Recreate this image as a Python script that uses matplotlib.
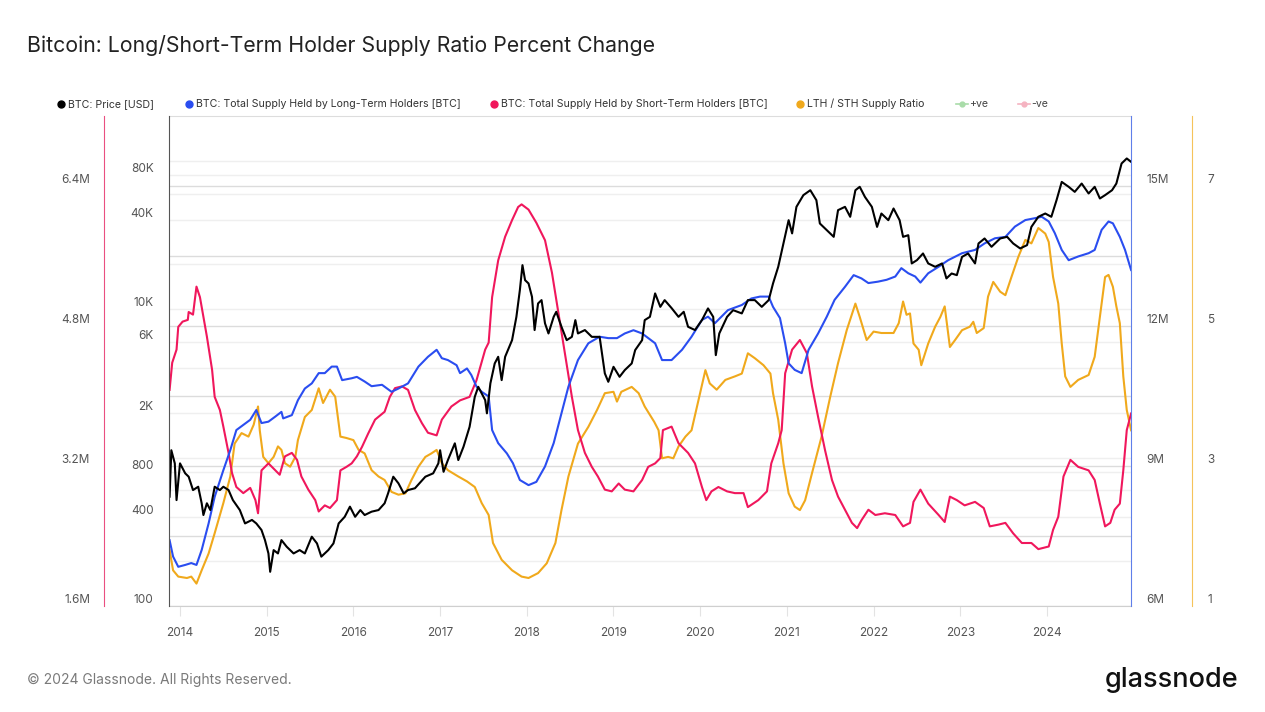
import matplotlib
matplotlib.use("Agg")
import matplotlib.pyplot as plt
from matplotlib.ticker import FixedLocator, NullLocator

plt.rcParams["font.family"] = ["Inter", "DejaVu Sans"]

# ---- data (time in decimal years) ----
price_t = [
    2013.88, 2013.90, 2013.94, 2013.96, 2014.00, 2014.06, 2014.10, 2014.15, 2014.21, 2014.25,
    2014.27, 2014.31, 2014.35, 2014.40, 2014.46, 2014.50, 2014.56, 2014.61, 2014.69, 2014.75,
    2014.83, 2014.88, 2014.94, 2014.98, 2015.02, 2015.04, 2015.08, 2015.13, 2015.17, 2015.23,
    2015.31, 2015.38, 2015.44, 2015.52, 2015.58, 2015.63, 2015.71, 2015.77, 2015.83, 2015.90,
    2015.96, 2016.02, 2016.08, 2016.13, 2016.21, 2016.29, 2016.36, 2016.40, 2016.46, 2016.52,
    2016.58, 2016.63, 2016.71, 2016.83, 2016.92, 2016.98, 2017.00, 2017.04, 2017.09, 2017.17,
    2017.21, 2017.27, 2017.34, 2017.40, 2017.44, 2017.52, 2017.54, 2017.58, 2017.63, 2017.67,
    2017.71, 2017.75, 2017.83, 2017.88, 2017.92, 2017.95, 2017.98, 2018.02, 2018.06, 2018.09,
    2018.13, 2018.17, 2018.21, 2018.25, 2018.31, 2018.34, 2018.40, 2018.46, 2018.52, 2018.56,
    2018.59, 2018.67, 2018.75, 2018.84, 2018.90, 2018.94, 2019.00, 2019.07, 2019.13, 2019.21,
    2019.25, 2019.33, 2019.36, 2019.42, 2019.48, 2019.54, 2019.59, 2019.67, 2019.75, 2019.81,
    2019.86, 2019.94, 2020.02, 2020.09, 2020.15, 2020.18, 2020.22, 2020.31, 2020.38, 2020.48,
    2020.55, 2020.63, 2020.71, 2020.79, 2020.84, 2020.90, 2020.96, 2021.02, 2021.06, 2021.11,
    2021.19, 2021.27, 2021.34, 2021.38, 2021.46, 2021.54, 2021.59, 2021.67, 2021.73, 2021.79,
    2021.84, 2021.90, 2021.98, 2022.04, 2022.09, 2022.17, 2022.23, 2022.30, 2022.34, 2022.40,
    2022.44, 2022.50, 2022.57, 2022.63, 2022.71, 2022.79, 2022.84, 2022.90, 2022.96, 2023.02,
    2023.09, 2023.17, 2023.21, 2023.28, 2023.36, 2023.46, 2023.54, 2023.61, 2023.69, 2023.77,
    2023.82, 2023.90, 2023.98, 2024.05, 2024.11, 2024.17, 2024.25, 2024.32, 2024.40, 2024.48,
    2024.55, 2024.61, 2024.67, 2024.75, 2024.80, 2024.86, 2024.92, 2024.97,
]
price_usd = [
    545, 1120, 914, 517, 914, 783, 743, 604, 636, 492,
    410, 492, 443, 636, 604, 636, 604, 517, 443, 360,
    380, 360, 325, 278, 226, 170, 238, 226, 278, 251,
    226, 238, 226, 293, 264, 215, 238, 264, 360, 399,
    467, 399, 443, 410, 432, 443, 492, 574, 743, 670,
    574, 604, 621, 743, 783, 914, 1120, 802, 962, 1247,
    962, 1183, 1611, 2566, 2997, 2439, 1986, 3162, 4306, 4774,
    3325, 4774, 6180, 8873, 13430, 19780, 15670, 14890, 12100, 7228,
    10920, 11500, 8017, 6855, 8873, 9594, 7603, 6180, 6505, 8433,
    6855, 7228, 6505, 6505, 3690, 3239, 4087, 3500, 3884, 4306,
    5297, 6180, 8433, 8873, 12760, 10360, 11500, 10160, 8873, 9594,
    7603, 7228, 8433, 10110, 8873, 4898, 6855, 8873, 9840, 9354,
    11500, 11500, 10360, 11500, 14890, 19280, 27690, 39740, 32360, 48870,
    58600, 63240, 54200, 37760, 34040, 30690, 46430, 48870, 41880, 63240,
    66680, 57020, 48870, 35810, 44060, 39740, 47640, 39740, 30690, 31480,
    20310, 21380, 23710, 20310, 19280, 20310, 16100, 17380, 16940, 22490,
    23710, 20310, 27690, 29920, 26300, 29920, 30690, 27690, 25640, 26980,
    35810, 41880, 44060, 41880, 54200, 71950, 66680, 61660, 70150, 60120,
    66680, 55630, 58600, 63240, 70150, 95720, 103500, 98200,
]

lth_t = [
    2013.88, 2013.92, 2013.98, 2014.06, 2014.13, 2014.19, 2014.25, 2014.33, 2014.40, 2014.50,
    2014.58, 2014.65, 2014.73, 2014.81, 2014.88, 2014.94, 2015.02, 2015.10, 2015.17, 2015.19,
    2015.29, 2015.36, 2015.44, 2015.52, 2015.60, 2015.67, 2015.75, 2015.81, 2015.87, 2015.98,
    2016.04, 2016.13, 2016.21, 2016.33, 2016.44, 2016.52, 2016.63, 2016.75, 2016.86, 2016.96,
    2017.02, 2017.09, 2017.19, 2017.23, 2017.31, 2017.36, 2017.42, 2017.48, 2017.56, 2017.60,
    2017.67, 2017.77, 2017.84, 2017.92, 2018.02, 2018.11, 2018.21, 2018.31, 2018.40, 2018.48,
    2018.59, 2018.71, 2018.84, 2018.94, 2019.04, 2019.13, 2019.23, 2019.33, 2019.48, 2019.56,
    2019.67, 2019.79, 2019.90, 2020.02, 2020.09, 2020.17, 2020.32, 2020.48, 2020.59, 2020.69,
    2020.79, 2020.84, 2020.92, 2020.98, 2021.02, 2021.09, 2021.17, 2021.25, 2021.36, 2021.46,
    2021.55, 2021.67, 2021.77, 2021.86, 2021.94, 2022.05, 2022.15, 2022.25, 2022.32, 2022.40,
    2022.48, 2022.54, 2022.63, 2022.75, 2022.86, 2023.02, 2023.17, 2023.28, 2023.40, 2023.52,
    2023.63, 2023.75, 2023.86, 2023.94, 2024.02, 2024.09, 2024.17, 2024.25, 2024.36, 2024.48,
    2024.55, 2024.63, 2024.71, 2024.76, 2024.84, 2024.90, 2024.97,
]
lth_supply_m = [
    7.41, 7.06, 6.84, 6.88, 6.92, 6.88, 7.20, 7.77, 8.34, 8.91,
    9.34, 9.77, 9.88, 9.99, 10.20, 9.92, 9.95, 10.06, 10.16, 10.02,
    10.09, 10.41, 10.66, 10.77, 10.99, 10.99, 11.13, 11.13, 10.84, 10.88,
    10.91, 10.81, 10.71, 10.74, 10.59, 10.66, 10.77, 11.13, 11.34, 11.49,
    11.31, 11.27, 11.16, 10.99, 11.09, 10.95, 10.70, 10.59, 10.49, 9.77,
    9.49, 9.27, 9.06, 8.70, 8.59, 8.66, 8.99, 9.49, 10.13, 10.70,
    11.27, 11.63, 11.77, 11.74, 11.74, 11.84, 11.91, 11.84, 11.63, 11.27,
    11.27, 11.49, 11.77, 12.13, 12.20, 12.06, 12.34, 12.45, 12.59, 12.63,
    12.63, 12.41, 12.17, 11.63, 11.20, 11.06, 10.99, 11.49, 11.84, 12.20,
    12.56, 12.84, 13.09, 13.02, 12.92, 12.95, 12.99, 13.06, 13.24, 13.13,
    13.06, 12.93, 13.13, 13.27, 13.41, 13.56, 13.63, 13.77, 13.88, 13.91,
    14.13, 14.27, 14.31, 14.34, 14.24, 13.99, 13.63, 13.41, 13.49, 13.56,
    13.63, 14.06, 14.24, 14.20, 13.91, 13.63, 13.20,
]

sth_t = [
    2013.88, 2013.91, 2013.96, 2013.98, 2014.03, 2014.09, 2014.10, 2014.15, 2014.19, 2014.23,
    2014.31, 2014.37, 2014.40, 2014.46, 2014.50, 2014.56, 2014.60, 2014.65, 2014.73, 2014.81,
    2014.87, 2014.90, 2014.94, 2015.02, 2015.10, 2015.15, 2015.21, 2015.29, 2015.35, 2015.40,
    2015.48, 2015.56, 2015.60, 2015.67, 2015.73, 2015.81, 2015.85, 2015.92, 2015.98, 2016.04,
    2016.10, 2016.17, 2016.25, 2016.36, 2016.42, 2016.48, 2016.56, 2016.63, 2016.71, 2016.79,
    2016.86, 2016.96, 2017.02, 2017.13, 2017.23, 2017.34, 2017.42, 2017.52, 2017.56, 2017.60,
    2017.67, 2017.75, 2017.83, 2017.90, 2017.94, 2018.02, 2018.11, 2018.21, 2018.29, 2018.36,
    2018.44, 2018.52, 2018.59, 2018.67, 2018.75, 2018.82, 2018.90, 2018.98, 2019.06, 2019.13,
    2019.23, 2019.33, 2019.40, 2019.48, 2019.54, 2019.57, 2019.67, 2019.75, 2019.86, 2019.94,
    2020.02, 2020.07, 2020.13, 2020.21, 2020.31, 2020.40, 2020.50, 2020.55, 2020.67, 2020.77,
    2020.82, 2020.90, 2020.94, 2020.98, 2021.06, 2021.15, 2021.23, 2021.29, 2021.36, 2021.44,
    2021.52, 2021.59, 2021.67, 2021.75, 2021.81, 2021.86, 2021.94, 2022.02, 2022.13, 2022.25,
    2022.34, 2022.42, 2022.46, 2022.54, 2022.63, 2022.75, 2022.82, 2022.88, 2022.96, 2023.05,
    2023.17, 2023.27, 2023.34, 2023.44, 2023.52, 2023.61, 2023.71, 2023.82, 2023.90, 2024.02,
    2024.07, 2024.13, 2024.19, 2024.27, 2024.36, 2024.48, 2024.55, 2024.61, 2024.67, 2024.73,
    2024.78, 2024.84, 2024.88, 2024.92, 2024.97,
]
sth_supply_m = [
    4.07, 4.38, 4.53, 4.79, 4.85, 4.87, 4.96, 4.93, 5.25, 5.13,
    4.68, 4.30, 3.99, 3.84, 3.65, 3.35, 3.12, 2.96, 2.89, 2.95,
    2.81, 2.66, 3.15, 3.23, 3.15, 3.10, 3.31, 3.35, 3.27, 3.08,
    2.93, 2.81, 2.68, 2.75, 2.72, 2.81, 3.15, 3.19, 3.23, 3.31,
    3.42, 3.57, 3.73, 3.82, 3.99, 4.09, 4.11, 4.07, 3.84, 3.69,
    3.58, 3.55, 3.73, 3.88, 3.95, 3.99, 4.18, 4.53, 4.61, 5.13,
    5.55, 5.82, 6.01, 6.16, 6.19, 6.13, 5.98, 5.78, 5.41, 4.98,
    4.49, 3.99, 3.61, 3.35, 3.19, 3.08, 2.93, 2.91, 3.00, 2.93,
    2.91, 3.04, 3.19, 3.23, 3.29, 3.61, 3.65, 3.46, 3.35, 3.23,
    2.96, 2.81, 2.91, 2.96, 2.91, 2.89, 2.89, 2.73, 2.81, 2.91,
    3.23, 3.46, 3.61, 4.26, 4.53, 4.64, 4.49, 4.11, 3.76, 3.38,
    3.04, 2.85, 2.70, 2.55, 2.49, 2.58, 2.70, 2.64, 2.66, 2.64,
    2.51, 2.55, 2.79, 2.93, 2.77, 2.64, 2.56, 2.85, 2.81, 2.75,
    2.79, 2.72, 2.51, 2.53, 2.55, 2.43, 2.32, 2.32, 2.25, 2.28,
    2.47, 2.62, 3.08, 3.27, 3.19, 3.15, 3.04, 2.77, 2.51, 2.55,
    2.70, 2.77, 3.15, 3.61, 3.80,
]

ratio_t = [
    2013.88, 2013.92, 2013.98, 2014.08, 2014.13, 2014.19, 2014.25, 2014.33, 2014.40, 2014.50,
    2014.58, 2014.63, 2014.71, 2014.79, 2014.85, 2014.90, 2014.92, 2014.96, 2015.02, 2015.08,
    2015.13, 2015.17, 2015.21, 2015.27, 2015.33, 2015.36, 2015.44, 2015.52, 2015.60, 2015.65,
    2015.73, 2015.79, 2015.83, 2015.85, 2015.92, 2016.00, 2016.06, 2016.13, 2016.21, 2016.29,
    2016.36, 2016.44, 2016.52, 2016.60, 2016.67, 2016.75, 2016.83, 2016.90, 2016.96, 2017.02,
    2017.09, 2017.21, 2017.31, 2017.40, 2017.48, 2017.56, 2017.61, 2017.71, 2017.83, 2017.94,
    2018.02, 2018.13, 2018.23, 2018.33, 2018.40, 2018.48, 2018.59, 2018.71, 2018.81, 2018.90,
    2019.00, 2019.04, 2019.09, 2019.21, 2019.29, 2019.36, 2019.47, 2019.52, 2019.56, 2019.63,
    2019.69, 2019.75, 2019.83, 2019.90, 2019.98, 2020.06, 2020.11, 2020.19, 2020.29, 2020.40,
    2020.48, 2020.55, 2020.63, 2020.73, 2020.81, 2020.84, 2020.90, 2020.96, 2021.02, 2021.09,
    2021.15, 2021.21, 2021.29, 2021.40, 2021.50, 2021.59, 2021.69, 2021.79, 2021.84, 2021.92,
    2022.00, 2022.09, 2022.23, 2022.29, 2022.34, 2022.38, 2022.42, 2022.46, 2022.52, 2022.55,
    2022.63, 2022.71, 2022.77, 2022.82, 2022.88, 2022.94, 2023.02, 2023.11, 2023.15, 2023.19,
    2023.27, 2023.32, 2023.38, 2023.46, 2023.52, 2023.59, 2023.67, 2023.75, 2023.82, 2023.90,
    2023.98, 2024.02, 2024.07, 2024.13, 2024.17, 2024.21, 2024.27, 2024.36, 2024.48, 2024.55,
    2024.61, 2024.67, 2024.71, 2024.76, 2024.80, 2024.84, 2024.88, 2024.92, 2024.97,
]
lth_sth_ratio = [
    1.80, 1.51, 1.42, 1.40, 1.42, 1.32, 1.51, 1.75, 2.04, 2.47,
    2.85, 3.32, 3.47, 3.42, 3.59, 3.85, 3.51, 3.13, 3.04, 3.13,
    3.28, 3.23, 3.04, 2.99, 3.13, 3.37, 3.70, 3.80, 4.11, 3.90,
    4.09, 3.99, 3.61, 3.42, 3.40, 3.37, 3.23, 3.18, 2.94, 2.85,
    2.80, 2.63, 2.59, 2.61, 2.80, 2.99, 3.13, 3.18, 3.23, 3.04,
    2.94, 2.85, 2.78, 2.70, 2.47, 2.30, 1.90, 1.66, 1.51, 1.42,
    1.40, 1.47, 1.61, 1.90, 2.37, 2.85, 3.32, 3.56, 3.80, 4.04,
    4.06, 3.92, 4.06, 4.13, 4.04, 3.85, 3.63, 3.51, 3.11, 3.13,
    3.11, 3.28, 3.42, 3.51, 3.94, 4.37, 4.18, 4.09, 4.23, 4.28,
    4.32, 4.61, 4.54, 4.44, 4.32, 4.04, 3.66, 3.04, 2.61, 2.42,
    2.37, 2.51, 2.90, 3.42, 3.99, 4.47, 4.94, 5.32, 5.13, 4.80,
    4.92, 4.90, 4.90, 5.04, 5.35, 5.16, 5.18, 4.75, 4.66, 4.44,
    4.75, 4.99, 5.13, 5.28, 4.70, 4.80, 4.94, 4.99, 5.06, 4.90,
    4.97, 5.42, 5.63, 5.49, 5.44, 5.70, 5.99, 6.23, 6.18, 6.40,
    6.32, 6.20, 5.70, 5.32, 4.75, 4.28, 4.13, 4.23, 4.30, 4.56,
    5.13, 5.70, 5.73, 5.56, 5.28, 5.04, 4.28, 3.80, 3.51,
]

years = list(range(2014, 2025))
price_grid = [200, 400, 600, 800, 1000, 2000, 4000, 6000, 10000, 20000, 40000, 60000, 80000, 100000]
price_labels = {100: "100", 400: "400", 800: "800", 2000: "2K", 6000: "6K",
                10000: "10K", 40000: "40K", 80000: "80K"}
sth_ticks = [1.6, 3.2, 4.8, 6.4]
lth_ticks = [6, 9, 12, 15]
ratio_ticks = [1, 3, 5, 7]

BLACK = "#000000"
BLUE = "#2a4df0"
RED = "#f0175c"
ORANGE = "#f0a91c"
TICK_COLOR = "#555555"

W, H = 1265, 712
L, R, T, B = 169, 1131, 116, 606

fig = plt.figure(figsize=(W / 100, H / 100), dpi=100)
ax_ratio = fig.add_axes([L / W, 1 - B / H, (R - L) / W, (B - T) / H])
ax_sth = ax_ratio.twinx()
ax_lth = ax_ratio.twinx()
ax_price = ax_ratio.twinx()

x_lo = 2014 + (L - 180) / 86.7
x_hi = 2014 + (R - 180) / 86.7
ax_ratio.set_xlim(x_lo, x_hi)

# limits for each y scale
ax_ratio.set_ylim(1, 8)
ax_sth.set_ylim(1.6, 7.2)
ax_lth.set_ylim(6, 16.5)
ax_price.set_yscale("log")
ax_price.set_ylim(100, 200000)

# gridlines (all on the bottom axes so they sit behind the lines)
ax_ratio.set_yticks(ratio_ticks)
ax_ratio.yaxis.set_minor_locator(FixedLocator([2, 4, 6]))
ax_ratio.grid(axis="y", which="both", color="#dcdcdc", lw=1.0, zorder=0)
for v in price_grid:
    ax_ratio.plot([0, 1], [v, v], transform=ax_price.get_yaxis_transform(),
                  color="#efefef", lw=1.0, zorder=0.5)

# series
ax_ratio.plot(ratio_t, lth_sth_ratio, color=ORANGE, lw=1.5, zorder=3)
ax_sth.plot(sth_t, sth_supply_m, color=RED, lw=1.5)
ax_lth.plot(lth_t, lth_supply_m, color=BLUE, lw=1.5)
ax_price.plot(price_t, price_usd, color=BLACK, lw=1.5)

# spines
for a in (ax_ratio, ax_sth, ax_lth, ax_price):
    for s in a.spines.values():
        s.set_visible(False)
ax_ratio.spines["bottom"].set_visible(True)
ax_ratio.spines["bottom"].set_color("#cfcfcf")
ax_ratio.spines["top"].set_visible(True)
ax_ratio.spines["top"].set_color("#dddddd")
ax_ratio.spines["right"].set_visible(True)
ax_ratio.spines["right"].set_color("#f5c35a")
ax_ratio.spines["right"].set_position(("axes", (1192 - L) / (R - L)))
ax_sth.spines["left"].set_visible(True)
ax_sth.spines["left"].set_color("#ea4f80")
ax_sth.spines["left"].set_position(("axes", (104 - L) / (R - L)))
ax_lth.spines["right"].set_visible(True)
ax_lth.spines["right"].set_color("#5f7fea")
ax_price.spines["left"].set_visible(True)
ax_price.spines["left"].set_color("#555555")

# y ticks
ax_ratio.yaxis.tick_right()
ax_ratio.set_yticklabels([str(v) for v in ratio_ticks])
ax_sth.yaxis.tick_left()
ax_sth.set_yticks(sth_ticks, [f"{v:.1f}M" for v in sth_ticks])
ax_lth.yaxis.tick_right()
ax_lth.set_yticks(lth_ticks, [f"{v}M" for v in lth_ticks])
ax_price.yaxis.tick_left()
price_ticks = sorted(set(price_grid) | set(price_labels))
ax_price.yaxis.set_minor_locator(NullLocator())
ax_price.set_yticks(price_ticks, [price_labels.get(v, "") for v in price_ticks])

for a, pad in ((ax_ratio, 11), (ax_sth, 10), (ax_lth, 11), (ax_price, 11)):
    a.tick_params(axis="y", which="both", length=0, pad=pad, labelsize=8.5,
                  labelcolor=TICK_COLOR)
    for lbl in a.get_yticklabels():
        lbl.set_va("bottom")

# x ticks
ax_ratio.set_xticks(years, [str(y) for y in years])
ax_ratio.tick_params(axis="x", length=7, color="#e3e3e3", pad=8, labelsize=8.5,
                     labelcolor=TICK_COLOR)

# title, legend, footer
fig.text(27 / W, 1 - 45 / H, "Bitcoin: Long/Short-Term Holder Supply Ratio Percent Change",
         fontsize=15.3, color="#222222", va="center", ha="left")

lax = fig.add_axes([0, 0, 1, 1], zorder=10)
lax.set_xlim(0, W)
lax.set_ylim(H, 0)
lax.axis("off")
legend_items = [
    (61, BLACK, "BTC: Price [USD]"),
    (189, BLUE, "BTC: Total Supply Held by Long-Term Holders [BTC]"),
    (494, RED, "BTC: Total Supply Held by Short-Term Holders [BTC]"),
    (800, ORANGE, "LTH / STH Supply Ratio"),
]
for x0, c, txt in legend_items:
    lax.plot([x0], [104], "o", color=c, ms=5)
    lax.text(x0 + 7, 104, txt, fontsize=7.6, color="#333333", va="center", ha="left")
for x0, c, txt in ((962, "#a9dca9", "+ve"), (1024, "#f5b3c1", "-ve")):
    lax.plot([x0 - 6, x0 + 6], [104, 104], color=c, lw=1.2)
    lax.plot([x0], [104], "o", color=c, ms=3.5)
    lax.text(x0 + 7, 104, txt, fontsize=7.6, color="#444444", va="center", ha="left")

fig.text(27 / W, 1 - 680 / H, "\u00a9 2024 Glassnode. All Rights Reserved.",
         fontsize=10, color="#7a7a7a", va="center", ha="left")
fig.text(1238 / W, 1 - 680 / H, "glassnode", fontsize=19.5, color="#111111",
         va="center", ha="right", fontweight="medium")

fig.savefig("out.png", dpi=100)
